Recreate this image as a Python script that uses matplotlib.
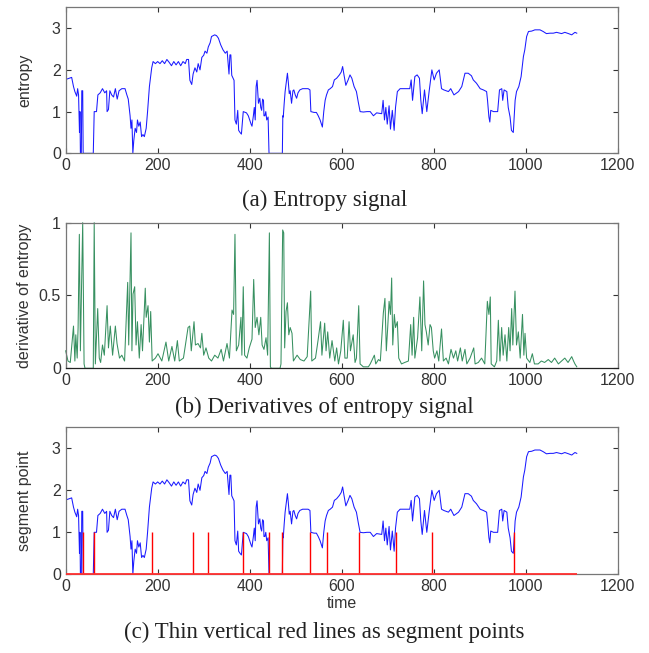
import numpy as np
import matplotlib
matplotlib.use('Agg')
import matplotlib.pyplot as plt

plt.rcParams['font.family'] = ['Liberation Sans', 'DejaVu Sans']

#%% data

# entropy signal (time, value)
ent_t = [0, 5, 13, 17, 20, 24, 26, 28, 30, 31, 32, 34, 35, 37, 38, 60, 62, 67, 70, 75,
         80, 85, 89, 90, 93, 96, 100, 104, 108, 112, 116, 122, 129, 133, 136, 140, 142, 144, 146, 148,
         151, 154, 156, 159, 162, 165, 168, 171, 175, 178, 182, 187, 190, 195, 200, 205, 210, 215, 220, 225,
         230, 235, 240, 245, 250, 255, 260, 263, 267, 270, 274, 277, 281, 285, 288, 292, 296, 300, 303, 307,
         310, 314, 317, 324, 328, 332, 337, 342, 347, 351, 355, 357, 359, 361, 366, 368, 371, 374, 376, 379,
         382, 386, 393, 397, 400, 403, 405, 408, 410, 412, 414, 416, 419, 422, 424, 426, 428, 430, 431, 433,
         435, 437, 440, 442, 471, 472, 473, 475, 477, 482, 484, 486, 488, 491, 494, 496, 499, 502, 505, 509,
         515, 520, 527, 531, 533, 540, 545, 549, 553, 556, 558, 561, 564, 567, 571, 575, 580, 584, 589, 595,
         599, 602, 605, 609, 614, 618, 622, 627, 632, 636, 640, 647, 655, 662, 669, 676, 687, 690, 693, 696,
         699, 703, 706, 710, 714, 717, 721, 727, 738, 748, 751, 754, 759, 764, 769, 772, 775, 780, 785, 790,
         796, 801, 806, 812, 817, 822, 832, 837, 844, 854, 861, 868, 875, 882, 886, 893, 901, 908, 915, 917,
         920, 922, 924, 930, 939, 943, 948, 950, 953, 959, 962, 966, 969, 973, 977, 980, 985, 990, 995, 998,
         1002, 1006, 1013, 1020, 1031, 1038, 1045, 1053, 1060, 1067, 1078, 1085, 1093, 1100, 1107, 1111]
ent_v = [1.77, 1.79, 1.82, 1.6, 1.48, 1.37, 1.55, 1.4, 0.5, 1.0, 0, 0, 1.5, 1.5, 0, 0, 1.0, 1.0, 1.4, 1.45,
         1.55, 1.45, 1.5, 1.0, 1.05, 1.5, 1.4, 1.35, 1.55, 1.3, 1.5, 1.55, 1.55, 1.4, 1.3, 0.9, 0.6, 0.8, 0, 0.3,
         0.6, 0.5, 0.8, 0.65, 0.75, 0.4, 0.45, 0.4, 0.6, 1.0, 1.6, 2.05, 2.2, 2.15, 2.2, 2.15, 2.22, 2.15, 2.25, 2.18,
         2.1, 2.2, 2.12, 2.2, 2.1, 2.2, 2.15, 2.25, 2.25, 1.75, 1.65, 1.9, 2.05, 1.95, 2.15, 2.0, 2.3, 2.35, 2.45, 2.4,
         2.55, 2.65, 2.8, 2.84, 2.82, 2.76, 2.6, 2.48, 2.4, 2.45, 1.9, 2.36, 2.36, 1.87, 1.75, 0.8, 0.7, 1.03, 0.55, 0.5,
         0.46, 1.0, 0.97, 0.9, 0.8, 0.7, 0.65, 0.9, 1.1, 0.8, 1.6, 1.75, 1.2, 1.32, 1.1, 1.03, 1.3, 1.27, 0.9, 0.9,
         1.0, 0.8, 0.87, 0, 0, 0.9, 0.87, 1.2, 1.48, 1.92, 1.7, 1.43, 1.5, 1.2, 1.5, 1.52, 1.4, 1.32, 1.45, 1.52,
         1.55, 1.55, 1.55, 1.52, 1.0, 0.98, 0.98, 0.9, 0.8, 0.7, 0.63, 1.0, 1.27, 1.4, 1.52, 1.55, 1.6, 1.76, 1.8, 1.88,
         1.95, 2.08, 1.88, 1.63, 1.76, 1.88, 1.8, 1.6, 1.48, 1.23, 1.0, 0.99, 1.0, 1.0, 0.9, 0.97, 0.95, 1.27, 0.8, 1.1,
         0.7, 1.14, 0.58, 1.03, 0.55, 1.1, 1.48, 1.55, 1.55, 1.55, 1.76, 1.27, 1.84, 1.88, 1.8, 1.27, 0.95, 1.52, 1.0, 1.48,
         2.0, 1.76, 1.92, 2.0, 1.55, 1.52, 1.48, 1.55, 1.4, 1.48, 1.6, 1.92, 1.92, 1.86, 1.76, 1.68, 1.55, 1.52, 1.48, 1.27,
         0.87, 0.75, 1.03, 1.0, 1.0, 1.52, 1.55, 1.27, 1.52, 1.48, 1.1, 0.87, 0.55, 0.5, 1.27, 1.48, 1.6, 1.84, 2.32, 2.48,
         2.8, 2.92, 2.93, 2.96, 2.96, 2.92, 2.87, 2.88, 2.88, 2.9, 2.87, 2.9, 2.87, 2.84, 2.9, 2.88]

# derivative of entropy (time, value)
der_t = [0, 5, 10, 17, 20, 22, 25, 27, 29.7, 32, 37, 40, 42, 60, 62, 64.5, 69.6, 73, 76, 80,
         84, 90, 93, 97, 102, 108, 111.6, 117, 122, 128, 134.8, 137, 142, 144, 146.4, 150, 153, 156, 160, 164,
         167, 173, 175, 179, 182, 184.8, 188, 195, 200.7, 209, 218, 224, 231, 237, 242.8, 247, 256, 266, 269.6, 273,
         279, 282, 287.7, 293, 296, 300, 305, 311, 317, 324, 331, 338, 343, 350.7, 356, 361.6, 365, 368, 371, 376,
         381, 383, 386, 389, 394, 399, 405, 408.7, 412, 416, 420, 424, 427, 431, 435.5, 439, 442.8, 445, 447, 466,
         468, 471.7, 474, 476, 479, 482, 485, 488, 492, 495, 503, 510, 518, 525, 532.6, 535, 543, 548.5, 554, 557,
         563, 566, 569.6, 574, 579, 585, 589, 593, 598, 603.5, 607, 612, 616, 619, 625, 629, 632, 637, 640, 647,
         658, 662, 671, 674, 680, 684, 690.5, 694, 697, 700, 703, 706, 708.6, 711, 714.4, 717, 721, 724, 730, 737,
         745, 750, 753, 756.4, 759, 765, 770, 774, 778, 781, 784, 788, 792, 795, 799, 802, 807, 811, 817, 821,
         827, 832, 837.6, 843, 848, 852, 858, 862, 868, 872, 879, 887, 890, 897, 904, 911, 916.6, 920, 923, 925,
         932, 937, 940.5, 944, 947.7, 951, 955, 959, 963, 966, 969.5, 972, 976.7, 980, 984, 988, 993, 996, 998.5, 1002,
         1009, 1014.4, 1019, 1027, 1034, 1041, 1049, 1056, 1063, 1071, 1078, 1085, 1092, 1100, 1104, 1107, 1111]
der_v = [0.12, 0.05, 0.04, 0.29, 0.05, 0.23, 0.07, 0.28, 0.92, 0.12, 1.0, 0.03, 0, 0, 1.0, 0.03, 0.41, 0.07, 0.04, 0.16,
         0.09, 0.43, 0.14, 0.29, 0.09, 0.29, 0.17, 0.07, 0.09, 0.05, 0.59, 0.16, 0.93, 0.12, 0.51, 0.56, 0.16, 0.32, 0.07, 0.3,
         0.12, 0.55, 0.35, 0.43, 0.18, 0.39, 0.05, 0.07, 0.1, 0.05, 0.18, 0.05, 0.15, 0.05, 0.19, 0.05, 0.07, 0.28, 0.29, 0.12,
         0.32, 0.16, 0.17, 0.14, 0.24, 0.09, 0.14, 0.07, 0.05, 0.09, 0.07, 0.13, 0.05, 0.17, 0.07, 0.4, 0.37, 0.92, 0.12, 0.16,
         0.35, 0.09, 0.56, 0.09, 0.07, 0.14, 0.2, 0.61, 0.28, 0.35, 0.23, 0.35, 0.16, 0.13, 0.21, 0.09, 0.93, 0.01, 0, 0,
         0.03, 0.95, 0.93, 0.14, 0.39, 0.45, 0.23, 0.28, 0.24, 0.05, 0.09, 0.06, 0.05, 0.08, 0.53, 0.05, 0.07, 0.19, 0.32, 0.09,
         0.31, 0.12, 0.25, 0.07, 0.19, 0.05, 0.14, 0.03, 0.12, 0.33, 0.07, 0.07, 0.32, 0.12, 0.23, 0.04, 0.07, 0.43, 0.03, 0.01,
         0.01, 0.03, 0.09, 0.03, 0.06, 0.05, 0.38, 0.48, 0.12, 0.28, 0.46, 0.37, 0.62, 0.16, 0.37, 0.28, 0.32, 0.07, 0.03, 0.04,
         0.05, 0.3, 0.09, 0.35, 0.07, 0.21, 0.49, 0.12, 0.6, 0.3, 0.25, 0.16, 0.3, 0.28, 0.12, 0.07, 0.12, 0.05, 0.27, 0.05,
         0.07, 0.03, 0.13, 0.07, 0.12, 0.05, 0.14, 0.05, 0.13, 0.03, 0.07, 0.14, 0.03, 0.04, 0.07, 0.03, 0.46, 0.37, 0.49, 0.03,
         0.01, 0.05, 0.33, 0.05, 0.28, 0.09, 0.23, 0.05, 0.28, 0.12, 0.41, 0.16, 0.53, 0.16, 0.25, 0.07, 0.37, 0.09, 0.24, 0.07,
         0.04, 0.1, 0.03, 0.03, 0.05, 0.04, 0.06, 0.04, 0.07, 0.03, 0.05, 0.07, 0.04, 0.08, 0.05, 0.03, 0.01]

# segment points found on the entropy signal
seg_t = [38, 62, 187, 277, 310, 385, 441, 471, 531, 569, 638, 718, 797, 975]
seg_h = [1] * len(seg_t)
t_end = 1111

xticks = [0, 200, 400, 600, 800, 1000, 1200]

#%% figure
fig = plt.figure(figsize=(6.49, 6.53), dpi=100)

def style(ax, ymax, yticks):
    ax.set_xlim(0, 1200)
    ax.set_ylim(0, ymax)
    ax.set_xticks(xticks)
    ax.set_yticks(yticks)
    ax.tick_params(direction='in', length=3.5, width=0.8, top=True, right=True,
                   labelsize=11.5, pad=3.5, colors='#333333', labelcolor='#333333')
    for s in ax.spines.values():
        s.set_color('#777777')
        s.set_linewidth(0.9)

# (a) entropy signal
ax1 = fig.add_axes([0.1012, 0.7652, 0.8506, 0.2236])
ax1.plot(ent_t, ent_v, color='#1a1aff', lw=0.75)
style(ax1, 3.5, [0, 1, 2, 3])
ax1.set_ylabel('entropy', fontsize=11.5, color='#333333', labelpad=14)

# (b) derivative
ax2 = fig.add_axes([0.1012, 0.436, 0.8506, 0.223])
ax2.plot(der_t, der_v, color='#21844f', lw=0.75, alpha=0.9, clip_on=False)
style(ax2, 1, [0, 0.5, 1])
ax2.set_yticklabels(['0', '0.5', '1'])
ax2.spines['bottom'].set_color('#222222')
ax2.set_ylabel('derivative of entropy', fontsize=11.5, color='#333333', labelpad=5)

# (c) segment points
ax3 = fig.add_axes([0.1012, 0.1205, 0.8506, 0.2251])
ax3.plot(ent_t, ent_v, color='#1a1aff', lw=0.75)
ax3.vlines(seg_t, 0, seg_h, color='#ff0000', lw=1.0)
ax3.hlines(0, 0, t_end, color='#ff3030', lw=1.3, zorder=3, clip_on=False)
style(ax3, 3.5, [0, 1, 2, 3])
ax3.set_ylabel('segment point', fontsize=11.5, color='#333333', labelpad=14)
ax3.set_xlabel('time', fontsize=11.5, color='#333333', labelpad=1)

# captions
cap = dict(ha='center', va='center', fontsize=16.5, family='Liberation Serif', color='#222222')
fig.text(0.5, 1 - 200 / 653, '(a) Entropy signal', **cap)
fig.text(0.5, 1 - 407 / 653, '(b) Derivatives of entropy signal', **cap)
fig.text(0.5, 1 - 632 / 653, '(c) Thin vertical red lines as segment points', **cap)

fig.savefig('out.png', dpi=100)
